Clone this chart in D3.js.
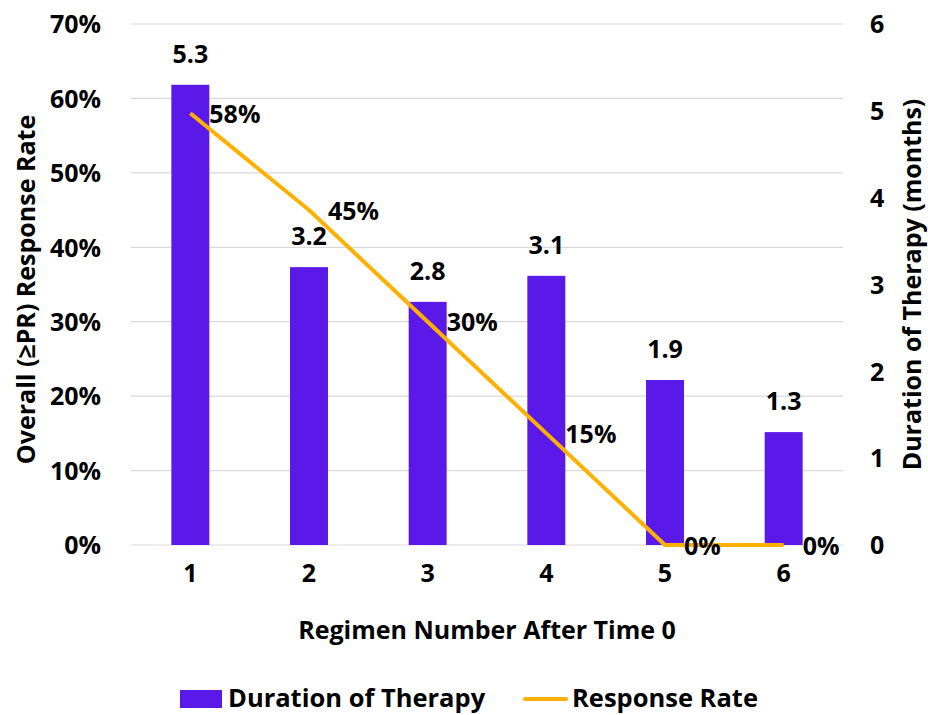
<!DOCTYPE html>
<html>
<head>
<meta charset="utf-8">
<script src="https://cdn.jsdelivr.net/npm/d3@7"></script>
<style>
  body { margin: 0; background: #fff; }
  text { font-family: "Open Sans", Lato, sans-serif; font-weight: bold; fill: #000; }
</style>
</head>
<body>
<div id="chart"></div>
<script>
const regimens = ["1","2","3","4","5","6"];
const durationMonths = [5.3, 3.2, 2.8, 3.1, 1.9, 1.3];
const responseRate = [0.58, 0.45, 0.30, 0.15, 0, 0];
const leftTicks = [0, 0.1, 0.2, 0.3, 0.4, 0.5, 0.6, 0.7];
const rightTicks = [0, 1, 2, 3, 4, 5, 6];

const width = 928, height = 715;
const plotLeft = 131, plotRight = 843, plotTop = 24, plotBottom = 545;
const fs = "25px";

const svg = d3.select("#chart").append("svg")
  .attr("width", width).attr("height", height);

const x = d3.scaleBand().domain(regimens).range([plotLeft, plotRight]).paddingInner(0.68).paddingOuter(0.34);
const yL = d3.scaleLinear().domain([0, 0.7]).range([plotBottom, plotTop]);
const yR = d3.scaleLinear().domain([0, 6]).range([plotBottom, plotTop]);

// gridlines
svg.append("g").selectAll("line").data(leftTicks)
  .join("line")
    .attr("x1", plotLeft).attr("x2", plotRight)
    .attr("y1", d => yL(d)).attr("y2", d => yL(d))
    .attr("stroke", "#d9d9d9").attr("stroke-width", 1.2);

// left axis
const leftAxis = svg.append("g")
  .attr("transform", `translate(${plotLeft - 30},0)`)
  .call(d3.axisLeft(yL).tickValues(leftTicks).tickFormat(d3.format(".0%")).tickSize(0).tickPadding(0));
leftAxis.select(".domain").remove();
leftAxis.selectAll("text").style("font-size", fs).attr("dy", "0.35em");

// right axis
const rightAxis = svg.append("g")
  .attr("transform", `translate(${plotRight + 27},0)`)
  .call(d3.axisRight(yR).tickValues(rightTicks).tickFormat(d3.format("d")).tickSize(0).tickPadding(0));
rightAxis.select(".domain").remove();
rightAxis.selectAll("text").style("font-size", fs).attr("dy", "0.35em");

// bottom axis
const bottomAxis = svg.append("g")
  .attr("transform", `translate(0,${plotBottom})`)
  .call(d3.axisBottom(x).tickSize(0).tickPadding(28));
bottomAxis.select(".domain").remove();
bottomAxis.selectAll("text").style("font-size", fs).attr("dy", "0.35em");

// bars
svg.append("g").selectAll("rect").data(durationMonths)
  .join("rect")
    .attr("x", (d, i) => x(regimens[i]))
    .attr("y", d => yR(d))
    .attr("width", x.bandwidth())
    .attr("height", d => plotBottom - yR(d))
    .attr("fill", "#5a19e8");

svg.append("g").selectAll("text").data(durationMonths)
  .join("text")
    .attr("x", (d, i) => x(regimens[i]) + x.bandwidth() / 2)
    .attr("y", d => yR(d) - 31)
    .attr("text-anchor", "middle")
    .attr("dy", "0.35em")
    .style("font-size", fs)
    .text(d => d.toFixed(1));

// line
const cx = i => x(regimens[i]) + x.bandwidth() / 2;
const line = d3.line().x((d, i) => cx(i)).y(d => yL(d));
svg.append("path")
  .datum(responseRate)
  .attr("d", line)
  .attr("fill", "none")
  .attr("stroke", "#ffb000")
  .attr("stroke-width", 4)
  .attr("stroke-linejoin", "round");

svg.append("g").selectAll("text").data(responseRate)
  .join("text")
    .attr("x", (d, i) => cx(i) + 19)
    .attr("y", d => yL(d) + 1)
    .attr("dy", "0.35em")
    .style("font-size", fs)
    .text(d => d3.format(".0%")(d));

// axis titles
svg.append("text")
  .attr("transform", `translate(26,${(plotTop + plotBottom) / 2 + 5}) rotate(-90)`)
  .attr("text-anchor", "middle")
  .attr("dy", "0.35em")
  .style("font-size", fs)
  .text("Overall (≥PR) Response Rate");

svg.append("text")
  .attr("transform", `translate(912,${(plotTop + plotBottom) / 2}) rotate(-90)`)
  .attr("text-anchor", "middle")
  .attr("dy", "0.35em")
  .style("font-size", fs)
  .text("Duration of Therapy (months)");

svg.append("text")
  .attr("x", (plotLeft + plotRight) / 2)
  .attr("y", 630)
  .attr("text-anchor", "middle")
  .attr("dy", "0.35em")
  .style("font-size", fs)
  .text("Regimen Number After Time 0");

// legend
const legend = svg.append("g");
legend.append("rect")
  .attr("x", 180).attr("y", 690).attr("width", 42).attr("height", 18)
  .attr("fill", "#5a19e8");
legend.append("text")
  .attr("x", 228).attr("y", 698).attr("dy", "0.35em")
  .style("font-size", "25.5px")
  .text("Duration of Therapy");
legend.append("line")
  .attr("x1", 525).attr("x2", 566).attr("y1", 699).attr("y2", 699)
  .attr("stroke", "#ffb000").attr("stroke-width", 4).attr("stroke-linecap", "round");
legend.append("text")
  .attr("x", 572).attr("y", 698).attr("dy", "0.35em")
  .style("font-size", "25.5px")
  .text("Response Rate");
</script>
</body>
</html>
